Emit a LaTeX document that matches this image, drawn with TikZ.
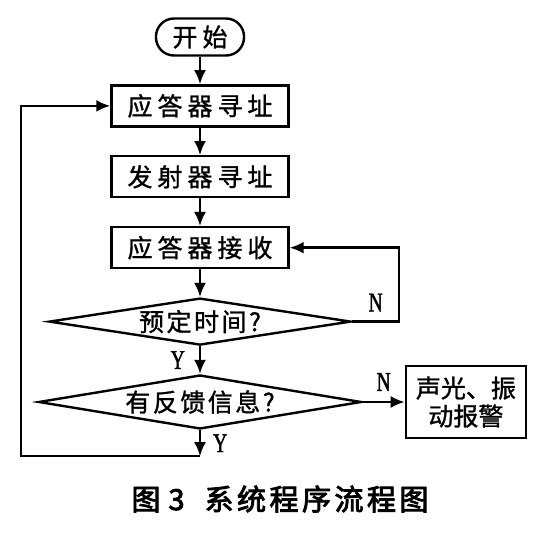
\documentclass[tikz,border=0pt]{standalone}
\usepackage{fontspec}
\newfontfamily\cjk[FakeBold=1.2]{Noto Sans CJK SC}
\newfontfamily\cjkwide[LetterSpace=20,FakeBold=1.2]{Noto Sans CJK SC}
\newfontfamily\cjkmid[LetterSpace=10,FakeBold=1.2]{Noto Sans CJK SC}
\newfontfamily\cjkcap[LetterSpace=12,FakeBold=3]{Noto Sans CJK SC}
\newfontfamily\ynfont[FakeStretch=0.72,FakeBold=1.5]{Liberation Serif}
\usetikzlibrary{positioning,arrows.meta,shapes.geometric}

\begin{document}
\begin{tikzpicture}[x=1pt, y=-1pt, node distance=27.5pt,
  every node/.style={font=\fontsize{25}{28}\selectfont\cjk},
  term/.style={draw, line width=2.4pt, rounded corners=18pt, minimum width=88pt,
    minimum height=37pt, inner sep=0pt, font=\fontsize{25}{28}\selectfont\cjkwide},
  proc/.style={draw, line width=2.4pt, minimum width=177pt, minimum height=41pt,
    inner sep=0pt, font=\fontsize{25}{28}\selectfont\cjkwide},
  decision/.style={diamond, draw, line width=2.4pt, inner sep=0pt},
  yn/.style={font=\fontsize{27}{29}\selectfont\ynfont, inner sep=0pt},
  flow/.style={line width=2.4pt, -{Latex[length=14pt,width=12pt]}}]
  \useasboundingbox (0,0) rectangle (542,535);
  \node[term] (start) at (200,37) {开始};
  \node[proc, below=of start] (addr) {应答器寻址};
  \node[proc, below=of addr] (emit) {发射器寻址};
  \node[proc, below=of emit] (recv) {应答器接收};
  \node[decision, minimum width=302pt, minimum height=47pt, below=of recv,
    label={[font=\fontsize{25}{28}\selectfont\cjkmid]center:预定时间?}] (time) {};
  \node[decision, minimum width=323pt, minimum height=54pt, below=of time,
    label={[font=\fontsize{25}{28}\selectfont\cjkmid]center:有反馈信息?}] (fb) {};
  \node[draw, line width=2.4pt, minimum width=120pt, minimum height=72pt, inner sep=0pt,
    align=center, right=42pt of fb] (alarm) {声光、振\\动报警};
  \coordinate[below=26pt of fb] (done);
  \coordinate[left=179pt of done] (back);
  \draw[flow] (start) -- (addr);
  \draw[flow] (addr) -- (emit);
  \draw[flow] (emit) -- (recv);
  \draw[flow] (recv) -- (time);
  \draw[flow] (time) -- (fb) node[midway, left=14pt, yn] {Y};
  \draw[flow] (time.east) -- node[above=9pt, yn] {N} ++(47,0) |- (recv.east);
  \draw[flow] (fb) -- (alarm) node[midway, above=10pt, yn] {N};
  \draw[flow] (fb) -- (done) node[midway, right=12pt, yn] {Y};
  \draw[flow] (done) -- (back) |- (addr);
  \node (cap) at (280,499) {\fontsize{29}{32}\selectfont\cjkcap 图\hspace{8pt}3\hspace{20pt}系统程序流程图};
\end{tikzpicture}
\end{document}
